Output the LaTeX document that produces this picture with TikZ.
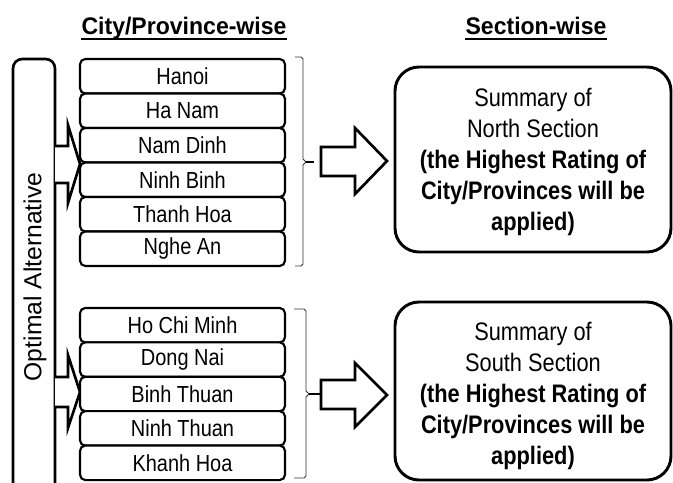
\documentclass[tikz,border=0pt]{standalone}
\usepackage{fontspec}
\setmainfont{Liberation Sans}
\newfontfamily\narrowfont{Liberation Sans}[FakeStretch=0.86]
\newfontfamily\titlefont{Liberation Sans}[FakeStretch=0.96]
\begin{document}
\begin{tikzpicture}[x=0.75pt,y=-0.75pt,
  city/.style={draw, line width=1.6pt, rounded corners=4pt, minimum width=153.75pt,
    minimum height=25.9pt, inner sep=0pt, fill=white,
    font=\narrowfont\fontsize{17.4}{20}\selectfont},
  sumbox/.style={draw, line width=2.2pt, rounded corners=18pt, inner sep=0pt, fill=white},
  sumtext/.style={align=center, inner sep=0pt,
    font=\narrowfont\fontsize{19}{23.25}\selectfont},
  blockarrow/.style={draw, line width=2pt, fill=white, line join=miter},
  bracel/.style={draw=black!80, line width=0.7pt},
  bracetick/.style={draw, line width=1.2pt},
  titletext/.style={font=\titlefont\bfseries\fontsize{18}{21}\selectfont, inner sep=0pt, anchor=base},
  titleline/.style={line width=1.4pt},
  barbox/.style={draw, line width=2pt, rounded corners=7pt, minimum width=31.5pt, minimum height=330pt, inner sep=0pt},
  bartext/.style={rotate=90, inner sep=0pt, font=\fontsize{18.5}{21}\selectfont}
]
\useasboundingbox (0,0) rectangle (673,482);
\fill[white] (0,0) rectangle (673,482);

% titles
\node[titletext] (t1) at (184,34) {City/Province-wise};
\node[titletext] (t2) at (536,34) {Section-wise};
\draw[titleline] ([yshift=-3.5pt]t1.base west) -- ([yshift=-3.5pt]t1.base east);
\draw[titleline] ([yshift=-3.5pt]t2.base west) -- ([yshift=-3.5pt]t2.base east);

% optimal alternative bar
\node[barbox] (bar) at (34,279) {};
\node[bartext] (bart) at (35,277) {Optimal Alternative};

% small block arrows from bar
\draw[blockarrow] (55,146) -- (68,146) -- (68,125) -- (80,164) -- (68,203) -- (68,183) -- (55,183);
\draw[blockarrow] (55,377) -- (68,377) -- (68,355) -- (80,392) -- (68,428) -- (68,407) -- (55,407);

% north city boxes
\node[city] (n1) at (182.5,76.25) {Hanoi};
\node[city] (n2) at (182.5,110.75) {Ha Nam};
\node[city] (n3) at (182.5,145.25) {Nam Dinh};
\node[city] (n4) at (182.5,179.75) {Ninh Binh};
\node[city] (n5) at (182.5,214.25) {Thanh Hoa};
\node[city] (n6) at (182.5,248.75) {Nghe An};

% south city boxes
\node[city] (s1) at (182.5,325.2) {Ho Chi Minh};
\node[city] (s2) at (182.5,359.6) {Dong Nai};
\node[city] (s3) at (182.5,394.0) {Binh Thuan};
\node[city] (s4) at (182.5,428.4) {Ninh Thuan};
\node[city] (s5) at (182.5,462.8) {Khanh Hoa};

% braces
\draw[bracel] (295,57) -- (301,57) -- (303,59) -- (303,159) -- (306,162) -- (303,165) -- (303,264) -- (301,266) -- (295,266);
\draw[bracetick] (306,162) -- (314,162);
\draw[bracel] (294,309) -- (304,309) -- (306,311) -- (306,391) -- (309,394) -- (306,397) -- (306,476) -- (304,478) -- (294,478);
\draw[bracetick] (309,394) -- (320,394);

% big block arrows
\draw[blockarrow] (321,147) -- (355,147) -- (355,128) -- (387,161) -- (355,194) -- (355,176) -- (321,176) -- cycle;
\draw[blockarrow] (321,380) -- (355,380) -- (355,363) -- (387,395) -- (355,427) -- (355,409) -- (321,409) -- cycle;

% summary boxes
\node[sumbox, minimum width=207pt, minimum height=138.75pt] (nbox) at (533,159.5) {};
\node[sumtext] (ntext) at (533,162) {Summary of\\North Section\\\textbf{(the Highest Rating of}\\\textbf{City/Provinces will be}\\\textbf{applied)}};
\node[sumbox, minimum width=207pt, minimum height=133.5pt] (sbox) at (533,391) {};
\node[sumtext] (stext) at (533,396) {Summary of\\South Section\\\textbf{(the Highest Rating of}\\\textbf{City/Provinces will be}\\\textbf{applied)}};
\end{tikzpicture}
\end{document}
